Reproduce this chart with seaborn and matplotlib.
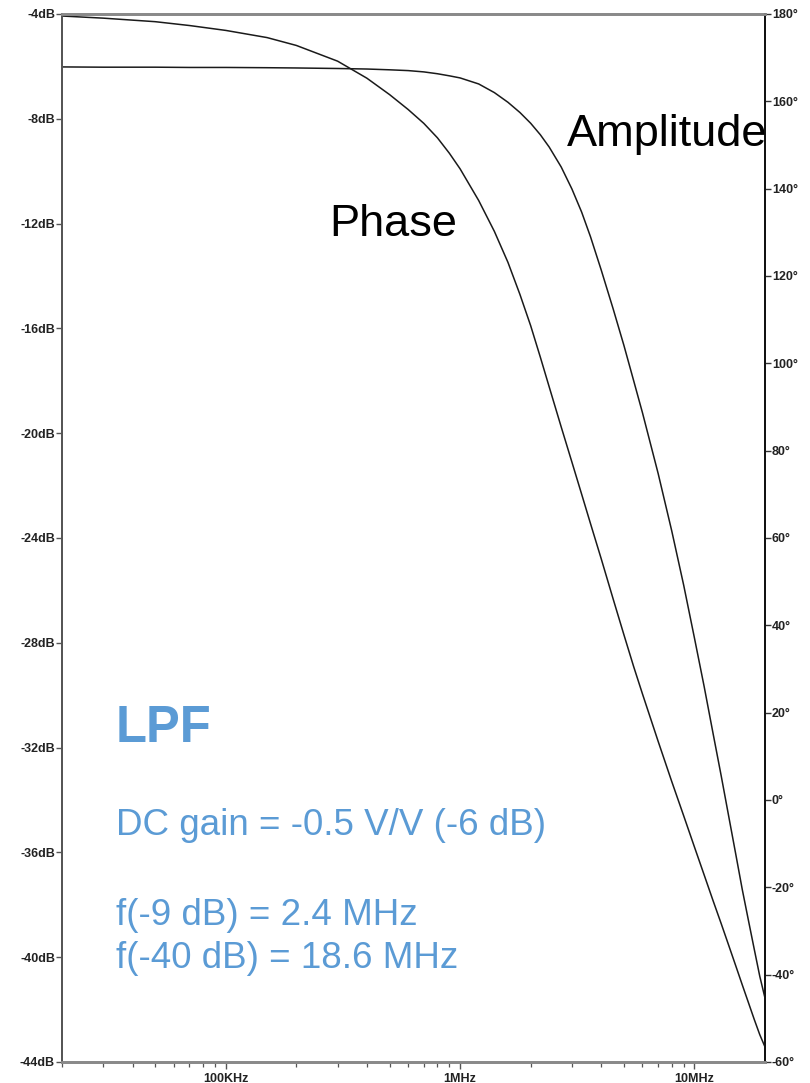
import matplotlib
matplotlib.use("Agg")
import matplotlib.pyplot as plt
import pandas as pd
import seaborn as sns
from matplotlib.ticker import FixedLocator, NullFormatter

# ---- data ----
freq_hz = [20e3, 30e3, 50e3, 70e3, 100e3, 150e3, 200e3, 300e3, 400e3, 500e3,
           600e3, 700e3, 800e3, 900e3, 1.0e6, 1.2e6, 1.4e6, 1.6e6, 1.8e6, 2.0e6,
           2.2e6, 2.4e6, 2.7e6, 3.0e6, 3.3e6, 3.6e6, 4.0e6, 4.5e6, 5.0e6, 5.5e6,
           6e6, 7e6, 8e6, 9e6, 10e6, 11e6, 12e6, 13e6, 14e6, 15e6,
           16e6, 17e6, 18e6, 19e6, 20e6]

amp_db = [-6.02, -6.03, -6.03, -6.04, -6.04, -6.05, -6.06, -6.08, -6.10, -6.13,
          -6.16, -6.21, -6.28, -6.36, -6.44, -6.67, -7.00, -7.37, -7.76, -8.17,
          -8.61, -9.08, -9.84, -10.68, -11.56, -12.50, -13.77, -15.26, -16.65, -17.99,
          -19.22, -21.54, -23.73, -25.81, -27.82, -29.67, -31.45, -33.07, -34.62, -36.06,
          -37.42, -38.60, -39.70, -40.73, -41.56]

phase_deg = [179.54, 179.05, 178.24, 177.36, 176.24, 174.60, 172.80, 169.20, 165.30, 161.54,
             158.13, 154.95, 151.65, 148.10, 144.53, 137.29, 130.22, 123.12, 115.77, 108.62,
             101.39, 94.59, 85.43, 77.37, 70.04, 63.31, 55.25, 46.00, 37.84, 30.58,
             24.29, 13.43, 4.23, -3.65, -10.77, -17.16, -23.02, -28.29, -33.28, -37.95,
             -42.35, -46.42, -50.27, -53.75, -56.55]

db_ticks = [-44, -40, -36, -32, -28, -24, -20, -16, -12, -8, -4]
deg_ticks = [-60, -40, -20, 0, 20, 40, 60, 80, 100, 120, 140, 160, 180]
freq_major = [1e5, 1e6, 1e7]
freq_major_labels = ["100KHz", "1MHz", "10MHz"]

title_text = "LPF"
info_lines = ["DC gain = -0.5 V/V (-6 dB)", "f(-9 dB) = 2.4 MHz", "f(-40 dB) = 18.6 MHz"]

# ---- style ----
sns.set_theme(style="white")
plt.rcParams['font.family'] = ['Liberation Sans', 'DejaVu Sans']

W, H = 810, 1083
fig = plt.figure(figsize=(W / 100, H / 100), dpi=100)
L, R, T, B = 62, 765, 14, 1062
ax = fig.add_axes([L / W, 1 - B / H, (R - L) / W, (B - T) / H])
ax.set_xscale('log')

df = pd.DataFrame({'freq': freq_hz, 'db': amp_db, 'deg': phase_deg})

line_color = '#1a1a1a'
sns.lineplot(data=df, x='freq', y='db', ax=ax, color=line_color, linewidth=1.1)
ax.set_xlim(2e4, 2e7)
ax.set_ylim(-44, -4)

ax2 = ax.twinx()
sns.lineplot(data=df, x='freq', y='deg', ax=ax2, color=line_color, linewidth=1.1)
ax2.set_xscale('log')
ax2.set_xlim(2e4, 2e7)
ax2.set_ylim(-60, 180)

for a in (ax, ax2):
    a.set_xlabel('')
    a.set_ylabel('')
    a.spines['top'].set_color('#8a8a8a')
    a.spines['top'].set_linewidth(2.0)
    a.spines['bottom'].set_color('#8a8a8a')
    a.spines['bottom'].set_linewidth(2.0)
    a.spines['left'].set_color('#555555')
    a.spines['left'].set_linewidth(1.3)
    a.spines['right'].set_color('#111111')
    a.spines['right'].set_linewidth(1.3)

tick_font = dict(fontsize=9, fontweight='bold', color='#222222')

ax.yaxis.set_major_locator(FixedLocator(db_ticks))
ax.set_yticklabels([f"{v}dB" for v in db_ticks], **tick_font)
ax.tick_params(axis='y', which='both', left=True, direction='out', length=4,
               width=1.0, color='#555555', pad=1)

ax2.yaxis.set_major_locator(FixedLocator(deg_ticks))
ax2.set_yticklabels([f"{v}°" for v in deg_ticks], **tick_font)
ax2.tick_params(axis='y', which='both', right=True, direction='out', length=4,
                width=1.0, color='#333333', pad=1)

ax.xaxis.set_major_locator(FixedLocator(freq_major))
ax.set_xticklabels(freq_major_labels, **tick_font)
minor = [m * d for d in (1e4, 1e5, 1e6) for m in range(2, 10) if 2e4 <= m * d <= 2e7]
ax.xaxis.set_minor_locator(FixedLocator(minor))
ax.xaxis.set_minor_formatter(NullFormatter())
ax.tick_params(axis='x', which='major', bottom=True, direction='out', length=5,
               width=1.0, color='#555555', pad=3)
ax.tick_params(axis='x', which='minor', bottom=True, direction='out', length=3.5,
               width=0.9, color='#555555')
ax2.tick_params(axis='x', which='both', bottom=False, top=False, labelbottom=False)

# ---- annotations ----
def fx(px):
    return px / W

def fy(py):
    return 1 - py / H

fig.text(fx(567), fy(146), "Amplitude", fontsize=32.5, color='black', va='baseline', ha='left')
fig.text(fx(329), fy(236), "Phase", fontsize=32.5, color='black', va='baseline', ha='left')

blue = '#5B9BD5'
fig.text(fx(116), fy(741.5), title_text, fontsize=36.5, fontweight='bold', color=blue,
         va='baseline', ha='left')
fig.text(fx(116), fy(835), info_lines[0], fontsize=26.5, color=blue, va='baseline', ha='left')
fig.text(fx(116), fy(925), info_lines[1], fontsize=26.5, color=blue, va='baseline', ha='left')
fig.text(fx(116), fy(968), info_lines[2], fontsize=26.5, color=blue, va='baseline', ha='left')

fig.savefig("out.png", dpi=100, facecolor='white')
